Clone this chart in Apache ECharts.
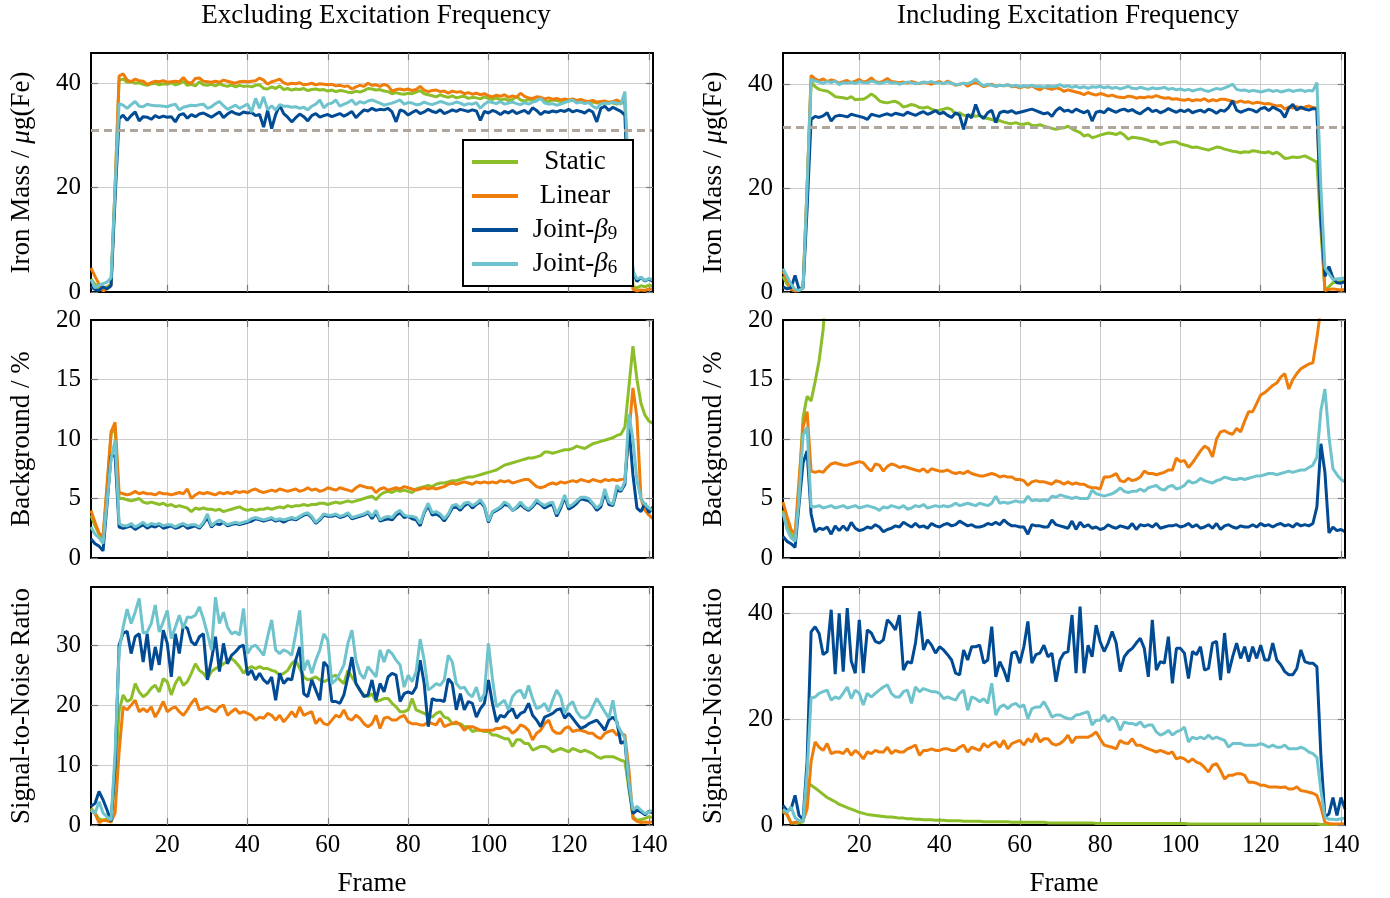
<!DOCTYPE html>
<html><head><meta charset="utf-8">
<script src="https://cdn.jsdelivr.net/npm/echarts@6/dist/echarts.min.js"></script>
<style>html,body{margin:0;padding:0;background:#fff}#c{width:1390px;height:898px}</style>
</head><body><div id="c"></div>
<script>
// ---------------- DATA ----------------
const frames = Array.from({length: 141}, (_, i) => i + 1);
const seriesNames = ['Static', 'Linear', 'Joint-β9', 'Joint-β6'];
const xTicks = [20, 40, 60, 80, 100, 120, 140];
const yTicksIron = [0, 20, 40];
const yTicksBg = [0, 5, 10, 15, 20];
const yTicksSnrExcl = [0, 10, 20, 30];
const yTicksSnrIncl = [0, 20, 40];
const panelTitles = ['Excluding Excitation Frequency', 'Including Excitation Frequency'];
const ironRefExcl = 31.0;
const ironRefIncl = 31.8;

// Iron mass, excluding excitation frequency
const ironExclStatic = [2.5,1.5,0.8,0.5,1.0,1.5,20,40.6,40.8,40.2, 40.3,40.0,40.1,39.8,39.6,39.9,40.0,39.7,39.9,39.8, 40.1,39.7,39.9,40.4,39.6,39.8,39.5,40.3,39.7,39.6, 39.8,39.5,39.9,39.6,39.4,39.7,39.3,39.6,39.4,39.5, 39.3,39.6,39.7,39.0,38.9,39.3,39.0,39.5,38.8,39.0, 38.7,38.9,38.8,39.0,38.6,38.8,38.9,38.7,38.8,38.5, 38.7,38.4,38.6,38.5,38.3,38.2,38.5,38.3,38.6,39.0, 38.9,38.7,38.8,38.5,38.4,38.0,38.2,38.0,37.9,38.1, 38.0,38.3,38.6,38.0,37.8,37.6,37.4,37.8,37.5,37.3, 37.6,37.2,37.4,37.5,37.1,37.3,37.2,37.0,37.4,37.1, 36.9,37.2,36.8,37.0,36.7,36.9,37.5,36.8,36.6,36.9, 36.7,36.8,37.2,36.6,36.5,36.8,36.7,36.5,36.7,36.6, 36.8,36.4,36.6,36.5,36.3,36.4,36.2,36.3,36.1,36.4, 36.2,36.0,36.3,36.1,17,1.0,0.8,1.2,1.0,1.3, 1.1];
const ironExclLinear = [4.6,3.0,1.5,0.2,0.6,1.3,20,41.4,41.8,40.6, 40.3,40.8,40.5,40.4,39.8,40.1,40.4,40.3,40.5,40.2, 40.3,40.4,40.3,41.1,40.2,40.0,40.9,41.0,40.4,40.3, 40.2,40.4,40.2,40.6,40.4,40.2,40.0,40.3,40.4,40.3, 40.4,40.5,41.0,40.6,39.8,40.3,40.5,40.8,40.1,39.8, 40.0,39.9,40.1,39.7,39.8,40.0,39.7,39.9,39.8,39.7, 39.8,39.5,39.6,39.4,39.5,38.9,39.3,39.6,39.4,40.0, 39.6,39.7,39.4,39.8,39.5,38.5,38.8,38.9,38.7,38.9, 38.6,38.8,39.4,38.7,38.4,38.6,38.7,38.4,38.5,38.1, 38.5,38.3,38.4,38.0,38.2,37.9,38.1,37.8,38.0,37.6, 37.4,37.7,37.5,37.8,37.3,37.6,37.3,38.1,37.5,37.2, 37.1,37.4,37.3,37.0,37.2,36.9,37.1,36.8,37.0,36.8, 37.0,36.7,36.9,36.6,36.5,36.7,36.4,36.5,36.6,36.3, 36.5,36.8,36.4,36.6,16,0.5,0.2,0.4,0.3,0.6, 0.5];
const ironExclJ9 = [1.0,0.5,0.3,1.0,0.6,1.2,18,33.2,33.9,32.9, 33.8,34.5,32.8,33.6,33.5,33.1,33.8,33.4,33.7,33.5, 33.6,32.6,33.9,34.2,33.3,34.0,33.6,34.1,34.3,33.9, 33.5,34.0,34.5,33.4,34.1,34.6,34.2,34.0,34.5,34.3, 34.4,33.8,34.0,31.6,34.8,31.3,34.0,35.8,34.2,33.5, 32.6,33.4,34.1,33.6,32.8,33.8,34.2,33.5,33.8,34.0, 33.6,33.9,34.2,33.7,34.1,34.6,33.4,34.2,34.9,34.7, 35.2,34.8,35.0,34.9,35.2,34.5,32.6,34.9,34.6,33.9, 34.4,34.8,34.2,34.5,35.0,34.6,34.4,34.9,34.2,34.5, 34.9,34.6,35.0,34.8,34.6,34.9,34.7,32.9,34.6,34.3, 34.8,34.5,34.0,34.6,34.3,34.8,34.2,34.5,34.8,34.2, 35.3,34.8,34.0,34.6,34.4,34.7,34.5,34.8,34.6,35.0, 34.5,34.8,34.6,34.3,34.9,34.5,32.6,35.2,35.6,34.8, 35.4,35.0,34.6,33.9,14,4.0,2.0,2.8,2.1,2.5, 2.0];
const ironExclJ6 = [2.4,0.8,1.3,1.6,1.9,2.7,20,36.1,35.8,35.2, 35.9,36.5,35.6,35.5,36.0,35.8,35.7,35.7,35.6,35.5, 35.8,36.0,34.9,35.4,35.6,35.8,35.7,35.9,36.0,35.2, 35.5,36.1,36.5,35.7,35.0,35.4,35.8,35.2,35.6,36.0, 34.5,37.1,35.2,37.4,34.9,35.7,34.9,35.9,35.6,35.6, 35.4,35.5,35.2,35.4,34.9,35.6,36.0,36.8,35.3,36.0, 36.2,36.8,35.6,36.0,36.3,36.8,35.9,36.5,36.2,36.6, 36.8,36.5,36.2,35.8,36.0,36.2,36.5,36.8,36.0,36.3, 36.2,35.9,36.0,36.4,36.1,35.9,36.2,36.5,36.3,36.0, 36.1,36.4,36.2,35.8,36.1,36.0,36.3,35.2,36.0,36.5, 36.3,36.1,36.5,36.0,36.2,36.4,36.1,35.9,36.3,36.0, 36.4,36.6,37.1,36.2,36.0,36.1,35.8,36.0,36.3,36.6, 36.8,36.2,36.4,36.1,36.3,35.6,35.2,36.0,36.2,36.1, 36.4,36.2,36.0,38.4,20,4.0,2.5,2.8,2.2,2.6, 2.3];

// Iron mass, including excitation frequency
const ironInclStatic = [3.0,1.5,0.5,0.3,0.4,1.0,20,40.5,39.5,39.0, 38.8,38.7,38.2,37.6,37.5,37.4,37.2,37.6,37.0,37.1, 37.1,37.5,38.1,37.6,36.8,36.5,36.4,36.6,36.7,36.3, 35.6,35.8,36.1,35.9,35.5,35.4,35.6,35.2,34.9,35.0, 35.2,35.4,35.1,34.2,34.5,34.0,33.9,34.1,33.8,34.0, 33.6,33.4,33.2,32.8,33.0,32.7,32.5,32.4,32.6,32.3, 32.3,32.5,32.1,32.0,32.2,31.9,31.7,31.5,31.3,31.5, 31.6,31.9,31.4,31.0,30.7,30.0,30.3,29.7,29.9,30.2, 30.4,30.6,30.5,30.3,30.7,30.2,29.4,29.8,29.7,29.6, 29.4,29.2,28.9,29.0,28.4,28.6,28.8,28.9,28.9,28.5, 28.3,28.1,27.8,27.9,27.7,27.5,27.3,27.6,27.9,27.8, 27.5,27.3,27.1,27.0,26.8,27.0,26.9,27.2,27.1,26.9, 26.8,27.0,26.6,26.9,26.4,25.7,25.8,26.0,25.9,26.0, 26.2,25.8,25.4,25.0,12,0.3,1.0,1.8,1.9,2.0, 2.1];
const ironInclLinear = [4.0,2.5,0.5,0.2,0.3,0.8,20,41.7,41.0,40.7, 41.0,40.5,40.8,40.6,40.2,40.5,40.7,40.3,40.6,40.9, 40.4,40.6,41.2,40.5,40.3,40.6,41.1,40.5,40.4,40.3, 40.4,40.2,40.5,40.3,40.1,40.4,40.2,40.0,40.3,40.5, 40.1,40.6,40.2,39.8,40.0,40.2,39.6,40.1,40.3,40.0, 39.5,39.8,40.0,39.6,39.8,39.7,39.9,39.5,39.6,39.3, 39.6,39.4,39.7,39.2,38.9,39.4,39.2,39.0,39.3,39.1, 38.6,38.9,38.7,38.5,38.3,38.0,38.4,38.1,37.9,38.2, 38.0,37.7,37.9,37.6,37.5,37.4,37.7,37.6,37.3,37.5, 37.4,37.6,37.5,37.8,37.5,37.3,37.4,37.1,37.2,37.0, 36.9,37.1,36.8,37.0,36.9,37.2,36.7,37.0,36.8,37.1, 37.1,36.9,36.7,36.5,36.8,36.5,36.6,36.3,36.5,36.4, 36.2,36.3,36.0,35.8,35.9,35.2,35.6,35.4,35.7,35.3, 35.6,35.8,35.5,35.4,14,0.3,0.5,0.6,0.5,0.4, 0.5];
const ironInclJ9 = [1.0,0.6,0.8,3.2,0.5,0.8,16,33.2,33.8,33.6, 33.9,34.5,32.9,33.8,34.0,33.9,33.7,34.2,34.0,33.8, 33.6,33.2,34.2,34.0,33.8,34.1,34.3,34.0,34.4,34.2, 34.0,34.6,34.3,34.0,34.4,34.7,34.2,34.5,34.9,34.3, 34.6,34.0,33.6,34.5,34.0,31.3,34.2,33.5,36.1,34.0, 33.4,34.5,35.0,32.6,34.5,34.8,34.6,34.9,34.4,34.6, 34.8,35.0,35.2,34.9,34.6,34.3,34.5,33.8,34.9,35.5, 34.8,35.0,34.6,35.2,34.8,34.5,34.9,32.9,34.6,34.8, 34.5,35.3,34.9,34.6,35.0,35.2,34.8,35.1,34.6,34.3, 34.9,35.4,34.7,35.0,34.5,34.8,35.3,34.9,34.6,35.0, 34.7,35.1,34.5,34.8,35.0,34.6,35.2,34.9,34.4,35.0, 34.8,35.5,36.8,35.0,34.6,34.9,35.2,35.0,34.6,35.3, 35.5,34.9,35.6,35.2,34.8,33.6,35.4,36.1,35.0,35.6, 35.2,35.0,35.3,35.2,14,3.0,4.9,2.7,1.8,1.7, 2.0];
const ironInclJ6 = [4.5,3.0,1.5,0.5,0.3,0.8,20,41.0,40.6,40.4, 40.2,40.5,40.3,40.6,39.9,40.3,40.2,40.4,40.1,40.5, 40.3,40.2,40.6,40.4,40.1,40.3,40.5,40.2,40.3,40.0, 40.2,40.4,40.3,40.1,40.2,40.4,40.3,40.5,40.2,40.3, 40.1,40.4,40.2,39.9,40.0,40.2,40.1,40.4,41.0,40.2, 39.7,40.0,39.8,39.6,39.8,39.7,39.9,39.6,39.8,39.5, 39.7,39.6,39.8,39.5,39.6,39.4,39.7,39.5,39.6,39.9, 39.5,39.7,39.4,39.6,39.3,39.5,39.2,39.5,39.4,39.6, 39.3,39.5,39.2,39.4,39.1,39.3,39.6,39.2,39.1,39.4, 39.2,39.0,39.3,39.1,39.2,39.4,39.0,39.2,38.9,39.1, 38.8,39.0,38.7,38.9,39.1,38.8,38.6,38.9,39.2,39.0, 39.3,39.6,40.0,39.0,38.8,38.9,38.6,38.8,38.7,38.5, 38.7,38.9,38.6,38.8,38.5,38.7,38.9,38.6,38.8,38.9, 38.6,38.8,38.7,40.3,20,4.6,3.5,2.4,2.5,2.6, 2.7];

// Background, excluding excitation frequency
const bgExclStatic = [3.6,2.7,2.0,1.6,5.8,10.4,11.0,5.0,5.0,4.9, 4.8,4.9,5.0,4.7,4.6,4.7,4.6,4.5,4.6,4.4, 4.5,4.3,4.4,4.3,4.2,3.9,4.2,4.1,4.2,4.1, 4.1,4.0,4.1,3.9,4.0,4.1,4.2,4.3,4.1,4.0, 4.1,4.0,4.1,4.1,4.2,4.1,4.2,4.3,4.2,4.4, 4.3,4.4,4.4,4.5,4.4,4.5,4.5,4.6,4.6,4.5, 4.6,4.7,4.6,4.7,4.8,4.7,4.8,4.9,5.0,5.1, 5.2,4.9,5.3,5.5,5.6,5.5,5.7,5.6,5.7,5.6, 5.5,5.8,5.9,6.0,6.1,6.0,6.2,6.3,6.3,6.4, 6.5,6.5,6.6,6.7,6.8,6.8,6.9,7.0,7.1,7.2, 7.3,7.4,7.6,7.8,7.9,8.0,8.1,8.2,8.3,8.4, 8.4,8.5,8.6,8.9,8.9,8.8,8.9,9.0,9.1,9.1, 9.2,9.4,9.3,9.2,9.4,9.6,9.7,9.8,9.9,10.0, 10.1,10.3,10.4,11.0,14.4,17.8,15.0,13.0,12.0,11.5, 11.3];
const bgExclLinear = [4.0,3.0,2.1,1.8,6.2,10.6,11.4,5.5,5.4,5.3, 5.4,5.6,5.4,5.5,5.4,5.4,5.3,5.5,5.4,5.4, 5.3,5.4,5.5,5.4,5.8,5.0,5.3,5.5,5.4,5.5, 5.4,5.3,5.5,5.4,5.5,5.4,5.6,5.5,5.6,5.5, 5.7,5.8,5.6,5.5,5.6,5.7,5.6,5.8,5.7,5.6, 5.7,5.8,5.6,5.7,5.9,5.7,5.8,5.6,5.7,5.9, 5.8,5.7,5.9,5.8,5.7,5.6,5.9,6.1,6.0,5.9, 5.9,5.5,5.8,5.9,5.7,5.8,5.9,5.8,6.0,5.9, 5.8,5.7,5.8,5.9,5.8,5.9,5.8,5.9,6.0,6.2, 6.3,6.2,6.3,6.4,6.3,6.2,6.4,6.3,6.4,6.3, 6.4,6.3,6.5,6.4,6.5,6.3,6.4,6.5,6.6,6.6, 6.3,6.0,5.9,6.0,6.2,6.3,6.2,6.4,6.3,6.4, 6.5,6.4,6.6,6.5,6.4,6.6,6.5,6.4,6.6,6.5, 6.6,6.5,6.6,6.7,10.5,14.3,11.8,5.0,4.0,3.6, 3.3];
const bgExclJ9 = [1.6,1.2,1.0,0.6,4.5,8.6,8.6,2.6,2.5,2.6, 2.7,2.4,2.6,2.8,2.5,2.7,2.6,2.8,2.5,2.6, 2.7,2.5,2.6,2.8,2.5,2.6,2.7,2.5,2.9,3.4, 2.6,2.9,2.8,3.0,2.7,2.8,2.9,2.8,2.9,3.0, 3.1,3.3,3.2,3.1,3.2,3.3,3.1,3.2,3.0,3.2, 3.3,3.2,3.4,3.6,3.7,3.4,2.9,3.2,3.6,3.5, 3.5,3.6,3.4,3.5,3.7,3.3,3.4,3.5,3.6,3.8, 3.3,3.8,3.1,3.2,3.3,3.2,3.6,3.8,3.4,3.5, 3.3,3.2,2.7,3.8,4.4,3.6,3.7,3.5,3.1,3.6, 4.2,4.3,4.0,4.4,4.6,4.2,4.5,4.7,4.3,3.0, 3.8,4.0,4.2,4.5,4.4,4.0,4.2,4.5,4.2,4.0, 4.3,4.7,4.5,4.2,4.4,4.5,3.5,4.2,5.1,4.1, 4.3,4.6,5.0,4.9,4.8,4.5,4.0,4.3,5.5,4.5, 4.4,5.7,5.6,6.2,11.0,7.0,4.2,3.9,4.6,3.8, 4.3];
const bgExclJ6 = [2.6,2.0,1.7,1.2,4.8,8.3,9.9,2.9,2.7,2.7, 2.9,2.6,2.8,3.0,2.7,2.9,2.8,2.9,2.7,2.8, 2.8,2.6,2.8,2.9,2.7,2.8,2.8,2.6,3.0,3.7, 2.7,3.0,3.2,3.0,2.8,2.9,3.0,2.9,3.0,3.1, 3.3,3.4,3.3,3.2,3.3,3.4,3.2,3.3,3.2,3.3, 3.4,3.3,3.5,3.7,3.8,3.5,3.0,3.3,3.7,3.6, 3.6,3.7,3.5,3.6,3.8,3.4,3.5,3.6,3.7,3.9, 3.5,4.0,3.2,3.4,3.5,3.4,3.8,4.0,3.6,3.5, 3.5,3.4,2.9,3.9,4.6,3.8,3.9,3.7,3.3,3.7, 4.4,4.5,4.2,4.6,4.7,4.4,4.6,4.9,4.4,3.1, 3.9,4.1,4.3,4.7,4.5,4.0,4.3,4.7,4.3,4.1, 4.4,4.9,4.6,4.4,4.6,4.7,3.7,4.4,5.3,4.3, 4.5,4.8,5.1,5.1,5.0,4.6,4.2,4.5,5.8,4.7, 4.5,6.1,5.7,6.4,12.1,10.0,6.5,5.0,4.5,4.2, 4.0];

// Background, including excitation frequency (values above 20 leave the plot)
const bgInclStatic = [4.0,2.8,2.0,1.6,6.0,11.8,13.6,13.2,14.8,16.6, 19.2,24.0];
const bgInclLinear = [4.7,3.5,2.4,2.0,6.5,11.0,12.3,7.3,7.2,7.3, 7.2,7.6,7.9,8.0,7.9,7.8,7.8,7.9,8.0,8.1, 8.0,7.6,7.3,7.9,7.8,7.3,7.7,7.9,7.8,7.6, 7.7,7.6,7.5,7.4,7.3,7.5,7.2,7.5,7.4,7.3, 7.3,7.4,7.2,7.1,7.2,7.1,7.3,7.1,7.0,6.9, 6.9,7.0,7.1,7.0,6.8,6.9,6.8,6.8,6.6,6.6, 6.5,6.1,6.4,6.5,6.4,6.4,6.3,6.2,6.5,6.4, 6.2,6.4,6.2,6.3,6.2,6.2,6.0,5.9,5.9,5.8, 6.8,6.8,6.9,7.1,6.5,6.4,6.7,6.5,6.6,6.8, 7.3,7.1,7.1,7.0,7.1,7.2,7.4,7.4,8.4,8.1, 8.2,7.6,8.0,8.5,9.0,9.4,9.2,8.5,10.0,10.6, 10.7,10.5,10.4,10.9,10.6,11.5,12.3,12.3,13.0,13.7, 13.9,14.2,14.5,14.7,15.2,15.5,14.2,15.0,15.5,15.9, 16.1,16.3,16.4,18.5,21];
const bgInclJ9 = [1.8,1.4,1.2,0.9,4.5,8.0,9.0,3.7,2.2,2.5, 2.4,2.6,2.0,2.7,2.3,2.7,2.3,3.0,2.5,2.3, 2.4,2.6,2.5,2.8,2.6,2.2,2.4,2.5,2.7,2.6, 3.0,2.8,2.6,2.9,2.6,2.7,2.5,2.9,2.7,2.6, 2.8,2.9,2.7,2.8,3.1,2.9,2.7,2.8,2.6,2.6, 2.7,2.9,2.8,3.0,2.8,3.2,2.9,2.7,2.7,2.6, 2.6,2.0,2.8,2.7,2.7,2.6,2.6,3.2,2.8,2.7, 2.6,2.5,3.1,2.4,3.0,2.6,2.8,2.5,2.6,2.4, 2.5,2.8,2.6,2.5,2.7,2.6,2.5,2.9,2.4,2.8, 2.7,2.8,2.6,2.9,2.5,2.6,2.7,2.7,2.8,2.6, 2.7,2.9,2.6,2.8,2.5,2.6,2.8,2.5,2.9,2.4, 2.7,2.8,2.6,2.5,2.7,2.6,2.6,2.8,2.6,2.9, 2.7,2.8,2.6,2.8,2.9,2.7,2.8,2.6,2.9,2.7, 2.8,2.7,2.9,4.3,9.6,7.2,2.1,2.6,2.3,2.4, 2.2];
const bgInclJ6 = [3.8,2.4,1.7,1.4,5.0,10.3,11.0,4.3,4.3,4.4, 4.2,4.3,4.4,4.2,4.3,4.4,4.2,4.3,4.4,4.2, 4.3,4.4,4.3,4.2,4.0,4.3,4.2,4.4,4.3,4.2, 4.4,4.1,4.2,4.4,4.3,4.5,4.2,4.3,4.4,4.3, 4.4,4.3,4.4,4.6,4.4,4.5,4.6,4.5,4.4,4.6, 4.5,4.4,4.6,5.2,4.6,4.7,4.6,4.7,4.8,4.7, 4.7,5.2,4.8,4.9,4.8,4.9,4.8,5.2,5.1,5.3, 5.2,5.1,5.0,5.1,5.0,5.0,5.0,5.7,5.4,5.3, 5.2,5.3,5.4,5.6,5.9,5.6,5.5,5.6,5.6,5.8, 5.6,5.9,6.0,6.1,5.8,5.7,6.0,6.1,5.8,5.9, 6.1,6.5,6.3,6.4,6.7,6.5,6.4,6.3,6.5,6.6, 6.8,6.7,6.6,6.6,6.7,6.6,6.7,6.8,6.9,6.9, 7.0,7.1,7.1,7.0,7.1,7.2,7.3,7.2,7.3,7.4, 7.4,7.6,7.8,8.5,12.4,14.2,10.2,7.5,7.0,6.6, 6.4];

// Signal-to-noise ratio, excluding excitation frequency
const snrExclStatic = [2.8,2.0,1.0,0.8,1.0,0.5,8,19.0,21.7,20.6, 21.0,23.6,22.2,21.4,21.9,22.8,23.3,22.2,24.4,23.9, 21.7,23.6,24.7,23.3,23.9,25.3,26.9,25.8,25.3,24.4, 25.6,26.1,26.4,26.9,27.2,27.8,27.2,26.4,25.3,26.1, 26.4,26.1,26.4,26.1,26.1,25.8,25.6,25.0,25.3,25.8, 26.9,27.5,26.1,24.7,24.2,24.4,24.7,24.2,23.9,24.2, 24.7,25.0,24.2,23.6,25.8,24.7,23.6,22.5,21.7,21.4, 21.9,20.6,20.8,21.1,21.1,20.3,19.7,18.9,18.9,19.2, 21.1,19.2,18.9,18.6,18.3,18.0,18.6,18.9,18.0,17.8, 16.9,16.9,16.9,16.4,16.4,15.6,15.8,15.8,15.6,15.6, 15.0,15.0,14.7,14.4,14.4,13.1,14.2,14.2,13.6,13.6, 12.5,12.8,13.1,13.1,12.8,12.2,12.5,12.8,12.5,12.2, 12.8,12.5,12.2,12.5,12.2,11.9,11.4,11.1,11.4,11.4, 11.4,11.1,10.8,10.6,6.0,1.4,0.8,0.9,1.1,1.4, 1.2];
const snrExclLinear = [2.5,1.9,0.4,0.8,0.7,0.5,2.0,12.2,19.7,19.2, 20.0,20.8,18.9,19.4,18.9,19.7,18.0,19.2,20.6,18.9, 19.4,19.7,18.9,18.3,19.2,20.3,21.1,19.2,19.4,19.7, 19.2,18.9,19.7,20.0,18.3,18.9,19.4,18.6,18.9,18.6, 18.3,17.5,18.0,17.8,18.6,18.3,17.5,18.3,17.2,18.0, 18.9,18.0,19.7,18.3,18.6,18.9,16.9,17.8,16.9,16.7, 17.5,18.3,18.0,19.2,17.8,17.5,18.3,17.8,16.9,16.4, 16.9,18.3,16.1,17.8,18.0,17.5,17.5,18.0,18.3,17.2, 16.9,16.9,16.7,16.7,17.2,16.9,16.7,17.8,16.4,16.7, 16.9,17.2,16.7,15.8,16.4,16.4,16.1,15.8,15.8,15.8, 15.8,16.1,16.1,16.4,16.1,15.3,15.8,16.7,16.4,15.8, 14.2,15.3,15.8,16.9,17.5,15.8,15.3,15.3,16.1,16.4, 15.6,15.8,15.8,15.6,15.3,15.3,14.7,14.4,15.3,15.6, 15.8,15.0,15.3,15.0,9.2,1.1,0.6,0.4,0.5,0.4, 0.6];
const snrExclJ9 = [3.1,3.6,5.6,4.2,2.5,0.6,10,30.0,32.0,32.3, 28.6,31.4,31.9,27.2,31.9,25.8,29.7,26.7,32.5,30.3, 24.7,31.9,28.6,33.3,32.8,30.6,30.0,31.4,31.9,24.2, 27.5,31.4,25.6,30.3,26.9,28.3,28.9,29.7,30.0,25.0, 25.8,24.2,25.3,24.2,23.6,24.7,20.8,25.3,23.6,24.4, 24.2,27.5,29.7,21.9,21.4,24.2,22.5,20.8,27.2,26.4, 20.6,20.6,20.3,21.7,24.7,28.0,23.6,22.5,21.4,21.7, 24.2,20.8,23.6,22.2,24.7,25.3,25.0,20.6,21.9,22.2, 21.9,23.0,27.5,23.6,16.4,21.1,20.8,20.8,20.6,24.4, 23.6,19.2,21.9,19.2,20.6,20.3,18.0,19.4,20.3,24.2, 20.3,17.2,18.3,18.0,18.9,19.4,17.8,18.6,18.9,20.3, 18.3,17.5,16.4,18.0,18.3,18.6,19.2,19.4,17.8,18.6, 17.8,16.9,16.1,16.4,16.9,17.2,17.5,16.7,15.8,17.5, 18.0,17.2,13.6,14.0,6.5,1.9,2.5,2.2,1.7,2.3, 2.0];
const snrExclJ6 = [2.5,1.9,3.9,2.0,1.4,0.8,12,29.0,33.0,36.0, 33.6,35.5,37.8,32.0,32.2,33.6,36.7,32.2,33.9,35.8, 31.1,33.0,35.0,32.8,34.7,34.6,35.0,36.4,34.4,31.9, 29.2,38.0,33.6,35.5,33.0,31.9,32.2,31.7,36.1,28.6, 29.7,30.0,29.2,28.3,31.4,34.2,29.2,28.6,29.2,28.9, 28.3,31.9,35.8,25.8,27.5,25.3,27.5,29.2,31.9,30.8, 23.6,24.2,25.3,26.7,30.3,32.5,27.5,25.3,24.4,26.4, 25.6,24.7,29.2,27.2,29.2,28.6,27.5,26.7,23.0,25.0, 23.9,25.6,31.0,27.5,22.5,23.0,23.6,23.3,24.2,28.3, 27.2,23.6,22.8,23.0,21.9,21.4,23.0,20.6,21.9,30.3, 24.4,19.7,20.3,20.8,19.2,21.4,22.2,22.5,21.1,23.3, 21.1,19.4,19.7,20.3,18.9,20.8,22.5,21.4,18.6,20.0, 20.6,18.9,18.0,17.8,18.3,19.7,21.1,20.0,18.9,17.8, 20.8,16.9,15.6,14.5,7.0,2.5,3.1,2.5,1.9,2.2, 2.5];

// Signal-to-noise ratio, including excitation frequency
const snrInclStatic = [2.5,2.0,0.5,0.3,0.4,0.6,8.0,7.5,7.0,6.4, 5.8,5.2,4.8,4.4,3.9,3.6,3.3,3.0,2.7,2.4, 2.2,2.0,1.9,1.8,1.7,1.6,1.5,1.5,1.4,1.3, 1.3,1.2,1.2,1.1,1.1,1.0,1.0,1.0,0.9,0.9, 0.9,0.8,0.8,0.8,0.8,0.7,0.7,0.7,0.7,0.7, 0.6,0.6,0.6,0.6,0.6,0.6,0.6,0.5,0.5,0.5, 0.5,0.5,0.5,0.5,0.5,0.5,0.4,0.4,0.4,0.4, 0.4,0.4,0.4,0.4,0.4,0.4,0.4,0.4,0.3,0.3, 0.3,0.3,0.3,0.3,0.3,0.3,0.3,0.3,0.3,0.3, 0.3,0.3,0.3,0.3,0.3,0.3,0.3,0.3,0.3,0.3, 0.3,0.2,0.2,0.2,0.2,0.2,0.2,0.2,0.2,0.2, 0.2,0.2,0.2,0.2,0.2,0.2,0.2,0.2,0.2,0.2, 0.2,0.2,0.2,0.2,0.2,0.2,0.2,0.2,0.2,0.2, 0.2,0.2,0.2,0.2,0.1,0.1,0.1,0.1,0.1,0.1, 0.1];
const snrInclLinear = [2.7,2.0,0.3,0.5,0.7,0.8,3.0,12.0,15.7,14.7, 14.1,15.4,13.5,13.8,13.8,13.5,14.4,13.2,14.1,13.5, 12.5,13.8,13.5,14.1,13.8,13.8,14.7,13.5,14.1,13.8, 13.8,14.4,14.7,15.1,13.2,14.1,14.1,14.4,14.1,14.1, 14.4,14.4,14.1,14.1,14.7,15.1,13.8,14.7,14.4,14.1, 15.4,14.7,15.4,15.7,14.7,16.0,14.4,15.4,15.7,16.0, 15.1,16.3,15.7,17.3,15.7,16.3,16.3,15.4,15.1,15.4, 16.0,17.0,15.5,16.6,16.6,16.6,16.6,17.0,17.6,16.3, 15.1,14.9,14.7,14.4,16.0,15.5,15.4,16.3,15.1,15.1, 14.7,14.4,14.1,13.8,14.1,13.8,13.5,13.8,12.5,12.8, 12.5,11.9,12.5,11.9,11.6,10.9,10.0,11.3,11.6,10.3, 8.7,9.4,9.4,9.7,9.7,9.4,8.1,8.1,7.9,7.5, 7.5,7.2,7.2,7.2,7.1,7.2,6.8,6.8,7.2,6.5, 6.4,6.2,6.0,5.6,3.4,0.5,0.3,0.2,0.2,0.2, 0.2];
const snrInclJ9 = [3.7,2.7,3.0,5.6,1.8,1.1,12,36.5,37.5,36.2, 32.2,32.8,40.7,28.5,40.0,29.0,41.0,31.0,28.7,38.8, 28.7,36.9,36.3,34.7,34.4,35.0,38.8,38.0,36.9,39.7, 29.3,30.9,30.6,34.4,40.4,33.1,35.0,34.0,32.5,33.7, 33.1,32.2,31.2,28.7,28.4,33.1,31.2,33.7,33.7,34.0, 30.6,31.2,37.5,28.0,30.9,29.3,27.1,32.5,32.8,30.6, 33.7,38.5,30.6,32.2,32.5,34.0,31.8,32.5,27.1,31.2, 32.5,32.8,39.7,28.7,41.3,28.7,34.0,31.8,37.8,34.7, 32.8,34.4,36.6,34.4,29.0,31.8,32.8,33.4,34.4,35.3, 33.4,28.0,38.8,29.3,30.9,30.6,35.6,26.8,33.4,33.4, 32.5,27.7,32.8,32.2,33.7,29.3,29.6,34.4,34.7,27.4, 36.3,28.7,31.8,34.4,31.5,33.7,30.9,33.7,31.5,34.0, 31.2,31.2,34.4,31.2,30.3,29.0,28.4,28.4,29.6,33.1, 30.9,30.6,30.6,29.9,13,1.5,2.1,5.2,1.8,5.2, 3.0];
const snrInclJ6 = [3.0,2.4,3.4,1.4,0.8,0.7,10,24.0,24.2,24.9, 25.2,25.5,23.6,24.2,23.9,24.9,26.1,23.9,25.5,24.9, 22.7,24.9,24.2,24.9,25.5,26.1,26.5,24.9,24.2,24.2, 25.2,25.5,23.0,26.1,25.2,25.8,25.5,25.2,25.2,24.9, 23.9,24.2,23.9,23.6,24.9,25.5,21.7,24.2,23.9,23.3, 23.9,23.0,26.8,20.8,22.3,22.7,22.0,22.7,23.0,22.3, 22.7,20.1,22.0,22.3,22.3,23.3,22.0,20.4,20.8,20.8, 20.4,20.1,20.1,20.8,20.9,21.2,21.4,18.9,19.8,19.8, 20.8,19.5,20.4,19.8,17.9,19.5,19.2,19.2,18.9,19.5, 18.5,18.9,18.9,17.6,17.0,17.3,17.9,17.0,17.6,17.9, 18.5,15.7,16.6,16.3,16.6,16.3,17.0,16.3,16.6,16.3, 16.0,14.7,15.4,15.4,15.4,15.1,15.1,15.1,15.1,15.4, 15.1,14.7,15.1,14.7,14.7,15.1,14.4,14.4,14.4,14.7, 14.4,13.8,13.5,12.8,6.5,1.5,1.1,1.1,1.0,1.2, 1.3];

// ---------------- LAYOUT / STYLE ----------------
const FONT = 'Liberation Serif';
const colors = ['#8cbe2a', '#ef7d0b', '#004b93', '#6ec3cd'];
const refColor = '#b1a69b';
const xMin = 1, xMax = 141;

const panels = [
  {left: 91,  top: 53,  height: 239, ymax: 45.8, ticks: yTicksIron, name: 'Iron Mass / {i|μ}g(Fe)', data: [ironExclStatic, ironExclLinear, ironExclJ9, ironExclJ6], ref: ironRefExcl, xlab: false},
  {left: 783, top: 53,  height: 239, ymax: 46,   ticks: yTicksIron, name: 'Iron Mass / {i|μ}g(Fe)', data: [ironInclStatic, ironInclLinear, ironInclJ9, ironInclJ6], ref: ironRefIncl, xlab: false},
  {left: 91,  top: 320, height: 238, ymax: 20,   ticks: yTicksBg, name: 'Background / %', data: [bgExclStatic, bgExclLinear, bgExclJ9, bgExclJ6], xlab: false},
  {left: 783, top: 320, height: 238, ymax: 20,   ticks: yTicksBg, name: 'Background / %', data: [bgInclStatic, bgInclLinear, bgInclJ9, bgInclJ6], xlab: false},
  {left: 91,  top: 587, height: 238, ymax: 39.7, ticks: yTicksSnrExcl, name: 'Signal-to-Noise Ratio', data: [snrExclStatic, snrExclLinear, snrExclJ9, snrExclJ6], xlab: true},
  {left: 783, top: 587, height: 238, ymax: 45,   ticks: yTicksSnrIncl, name: 'Signal-to-Noise Ratio', data: [snrInclStatic, snrInclLinear, snrInclJ9, snrInclJ6], xlab: true}
];

const NAME_SIZE = 27;
const txt = {fontFamily: FONT, color: '#000'};
const tickStyle = {color: '#7a7a7a', width: 1.2};
const borderLine = {show: true, onZero: false, lineStyle: {color: '#000', width: 2}};

const option = {
  animation: false,
  backgroundColor: '#fff',
  textStyle: {fontFamily: FONT},
  title: [
    {text: panelTitles[0], left: 371, top: -3, textAlign: 'center', textStyle: Object.assign({fontSize: NAME_SIZE, fontWeight: 'normal'}, txt)},
    {text: panelTitles[1], left: 1063, top: -3, textAlign: 'center', textStyle: Object.assign({fontSize: NAME_SIZE, fontWeight: 'normal'}, txt)}
  ],
  legend: {
    data: seriesNames,
    orient: 'vertical',
    left: 463, top: 140,
    icon: 'rect',
    itemWidth: 46, itemHeight: 4,
    itemGap: 6,
    padding: [8, 6, 8, 9],
    borderColor: '#000', borderWidth: 2, borderRadius: 0,
    backgroundColor: '#fff',
    textStyle: {fontFamily: FONT, fontSize: NAME_SIZE, color: '#000', width: 104, lineHeight: 28,
      rich: {
        a: {fontFamily: FONT, fontSize: NAME_SIZE, color: '#000', align: 'center', lineHeight: 28},
        b: {fontFamily: FONT, fontSize: NAME_SIZE, fontStyle: 'italic', color: '#000', align: 'center', lineHeight: 28},
        s: {fontFamily: FONT, fontSize: 19, color: '#000', align: 'center', verticalAlign: 'bottom', lineHeight: 9}
      }},
    formatter: n => {
      const m = n.match(/^Joint-β(\d)$/);
      return m ? '{a|Joint-}{b|β}{s|' + m[1] + '}' : '{a|' + n + '}';
    }
  },
  grid: panels.map(p => ({left: p.left, top: p.top, width: 562, height: p.height, containLabel: false, outerBoundsMode: 'none'})),
  xAxis: [], yAxis: [], series: []
};

panels.forEach((p, i) => {
  option.xAxis.push({
    gridIndex: i, type: 'value', min: xMin, max: xMax, position: 'bottom',
    axisLine: borderLine,
    axisTick: {show: true, inside: true, length: 7, customValues: xTicks, lineStyle: tickStyle},
    axisLabel: {show: p.xlab, customValues: xTicks, margin: 8, fontSize: 25, fontFamily: FONT, color: '#000'},
    splitLine: {show: true, lineStyle: {color: '#cccccc', width: 1}},
    name: p.xlab ? 'Frame' : '', nameLocation: 'middle', nameGap: 45,
    nameTextStyle: {fontFamily: FONT, fontSize: NAME_SIZE, color: '#000'}
  });
  option.xAxis.push({
    gridIndex: i, type: 'value', min: xMin, max: xMax, position: 'top', z: 10,
    axisLine: borderLine,
    axisTick: {show: true, inside: true, length: 7, customValues: xTicks, lineStyle: tickStyle},
    axisLabel: {show: false}, splitLine: {show: false}
  });
  option.yAxis.push({
    gridIndex: i, type: 'value', min: 0, max: p.ymax, position: 'left',
    axisLine: borderLine,
    axisTick: {show: true, inside: true, length: 7, customValues: p.ticks, lineStyle: tickStyle},
    axisLabel: {show: true, customValues: p.ticks, margin: 10, fontSize: 25, fontFamily: FONT, color: '#000'},
    splitLine: {show: true, lineStyle: {color: '#cccccc', width: 1}},
    name: p.name, nameLocation: 'middle', nameGap: 56, nameRotate: 90,
    nameTextStyle: {fontFamily: FONT, fontSize: NAME_SIZE, color: '#000',
      rich: {i: {fontFamily: FONT, fontSize: NAME_SIZE, fontStyle: 'italic', color: '#000'}}}
  });
  option.yAxis.push({
    gridIndex: i, type: 'value', min: 0, max: p.ymax, position: 'right', z: 10,
    axisLine: borderLine,
    axisTick: {show: true, inside: true, length: 7, customValues: p.ticks, lineStyle: tickStyle},
    axisLabel: {show: false}, splitLine: {show: false}
  });
  p.data.forEach((vals, k) => {
    const s = {
      type: 'line', name: seriesNames[k],
      xAxisIndex: 2 * i, yAxisIndex: 2 * i,
      data: vals.map((v, j) => [frames[j], v]),
      symbol: 'none', showSymbol: false, clip: true,
      lineStyle: {color: colors[k], width: 3},
      itemStyle: {color: colors[k]},
      silent: true
    };
    if (k === 0 && p.ref !== undefined) {
      s.markLine = {
        silent: true, symbol: 'none', label: {show: false},
        lineStyle: {color: refColor, type: [8, 5], width: 3},
        data: [{yAxis: p.ref}]
      };
    }
    option.series.push(s);
  });
});

const chart = echarts.init(document.getElementById('c'), null, {renderer: 'canvas'});
chart.setOption(option);
</script>
</body></html>
